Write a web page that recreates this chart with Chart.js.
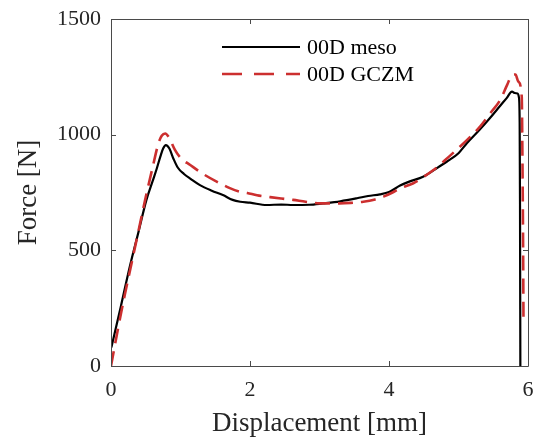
<!DOCTYPE html>
<html>
<head>
<meta charset="utf-8">
<script src="https://cdn.jsdelivr.net/npm/chart.js@4.4.1/dist/chart.umd.min.js"></script>
<style>
  html, body { margin: 0; padding: 0; background: #ffffff; }
  #wrap { width: 534px; height: 438px; position: relative; }
</style>
</head>
<body>
<div id="wrap"><canvas id="c" width="534" height="438"></canvas></div>
<script>
// ---- data ----
const mesoX = [0.005, 0.14, 0.27, 0.40, 0.51, 0.60, 0.66, 0.71, 0.75, 0.79, 0.84, 0.90, 0.96, 1.05, 1.15, 1.28, 1.45, 1.61, 1.75, 1.86, 2.00, 2.24, 2.45, 2.62, 2.85, 3.05, 3.30, 3.54, 3.70, 3.87, 4.00, 4.16, 4.30, 4.49, 4.65, 4.83, 5.00, 5.12, 5.30, 5.45, 5.60, 5.69, 5.77, 5.81, 5.85, 5.87, 5.88, 5.885, 5.89];
const mesoF = [80, 255, 429, 585, 718, 800, 855, 905, 940, 955, 940, 895, 858, 830, 808, 782, 758, 739, 718, 710, 706, 696, 698, 696, 697, 703, 712, 725, 735, 742, 752, 780, 798, 818, 848, 883, 920, 963, 1020, 1071, 1125, 1157, 1186, 1180, 1178, 1160, 1050, 700, 0];

const gczmX = [0.00, 0.10, 0.20, 0.30, 0.40, 0.50, 0.60, 0.68, 0.73, 0.78, 0.83, 0.92, 1.00, 1.14, 1.30, 1.52, 1.71, 1.86, 1.96, 2.10, 2.29, 2.45, 2.62, 2.80, 3.01, 3.29, 3.45, 3.63, 3.80, 3.92, 4.05, 4.16, 4.35, 4.50, 4.64, 4.80, 4.97, 5.15, 5.31, 5.45, 5.60, 5.70, 5.77, 5.82, 5.86, 5.91, 5.92, 5.93, 5.935];
const gczmF = [0, 160, 310, 450, 590, 730, 860, 960, 995, 1005, 990, 934, 900, 869, 835, 797, 769, 753, 748, 738, 730, 724, 718, 710, 703, 703, 705, 710, 720, 732, 750, 768, 790, 818, 847, 888, 934, 985, 1035, 1090, 1150, 1215, 1258, 1260, 1230, 1164, 900, 500, 200];

const seriesNames = ['00D meso', '00D GCZM'];
const xTicks = [0, 2, 4, 6];
const yTicks = [0, 500, 1000, 1500];
const xTitle = 'Displacement [mm]';
const yTitle = 'Force [N]';

const BLACK = '#000000';
const RED = '#cc2f2f';
const AXIS = '#4a4a4a';
const TEXT = '#262626';
const SERIF = '"Liberation Serif", "DejaVu Serif", serif';

function toPts(xs, ys) { return xs.map((x, i) => ({ x: x, y: ys[i] })); }

const boxPlugin = {
  id: 'boxTicks',
  afterDraw(chart) {
    const ctx = chart.ctx;
    const a = chart.chartArea;
    const xs = chart.scales.x, ys = chart.scales.y;
    const L = 5;
    ctx.save();
    ctx.strokeStyle = AXIS;
    ctx.lineWidth = 1;
    ctx.beginPath();
    ctx.rect(Math.round(a.left) + 0.5, Math.round(a.top) + 0.5,
             Math.round(a.right - a.left), Math.round(a.bottom - a.top));
    ctx.stroke();
    ctx.beginPath();
    xTicks.forEach(v => {
      const px = Math.round(xs.getPixelForValue(v)) + 0.5;
      ctx.moveTo(px, a.bottom); ctx.lineTo(px, a.bottom - L);
      ctx.moveTo(px, a.top); ctx.lineTo(px, a.top + L);
    });
    yTicks.forEach(v => {
      const py = Math.round(ys.getPixelForValue(v)) + 0.5;
      ctx.moveTo(a.left, py); ctx.lineTo(a.left + L, py);
      ctx.moveTo(a.right, py); ctx.lineTo(a.right - L, py);
    });
    ctx.stroke();

    // legend
    const lx0 = 222, lx1 = 300, tx = 307;
    const rows = [
      { y: 47, color: BLACK, dash: [], w: 2.2, name: seriesNames[0] },
      { y: 74, color: RED, dash: [20, 12], w: 2.6, name: seriesNames[1] }
    ];
    ctx.font = '22px ' + SERIF;
    ctx.textBaseline = 'middle';
    ctx.textAlign = 'left';
    rows.forEach(r => {
      ctx.beginPath();
      ctx.strokeStyle = r.color;
      ctx.lineWidth = r.w;
      ctx.setLineDash(r.dash);
      ctx.moveTo(lx0, r.y); ctx.lineTo(lx1, r.y);
      ctx.stroke();
      ctx.setLineDash([]);
      ctx.fillStyle = '#000';
      ctx.fillText(r.name, tx, r.y + 1);
    });
    ctx.restore();
  }
};

new Chart(document.getElementById('c'), {
  type: 'scatter',
  data: {
    datasets: [
      { label: seriesNames[0], data: toPts(mesoX, mesoF), showLine: true, borderColor: BLACK,
        borderWidth: 2.2, pointRadius: 0, cubicInterpolationMode: 'monotone', order: 1, fill: false },
      { label: seriesNames[1], data: toPts(gczmX, gczmF), showLine: true, borderColor: RED,
        borderWidth: 2.6, borderDash: [15, 8], pointRadius: 0, cubicInterpolationMode: 'monotone', order: 0, fill: false }
    ]
  },
  options: {
    responsive: false,
    animation: false,
    devicePixelRatio: 1,
    layout: { padding: { top: 19, right: 6, left: 0, bottom: 0 } },
    plugins: { legend: { display: false }, tooltip: { enabled: false } },
    scales: {
      x: {
        type: 'linear', min: 0, max: 6,
        afterBuildTicks: s => { s.ticks = xTicks.map(v => ({ value: v })); },
        afterFit: s => { s.height = 72; s.paddingLeft = 0; s.paddingRight = 0; },
        grid: { display: false, drawTicks: false },
        border: { display: false },
        ticks: { padding: 11, color: TEXT, font: { family: SERIF, size: 22 }, maxRotation: 0,
                 callback: v => String(v) },
        title: { display: true, text: xTitle, color: TEXT, font: { family: SERIF, size: 27 }, padding: { top: 0, bottom: -2 } }
      },
      y: {
        type: 'linear', min: 0, max: 1500,
        afterBuildTicks: s => { s.ticks = yTicks.map(v => ({ value: v })); },
        afterFit: s => { s.width = 111; s.paddingTop = 0; s.paddingBottom = 0; },
        grid: { display: false, drawTicks: false },
        border: { display: false },
        ticks: { padding: 10, color: TEXT, font: { family: SERIF, size: 22 }, callback: v => String(v) },
        title: { display: true, text: yTitle, color: TEXT, font: { family: SERIF, size: 27 }, padding: { top: 13, bottom: 0 } }
      }
    }
  },
  plugins: [boxPlugin]
});
</script>
</body>
</html>
